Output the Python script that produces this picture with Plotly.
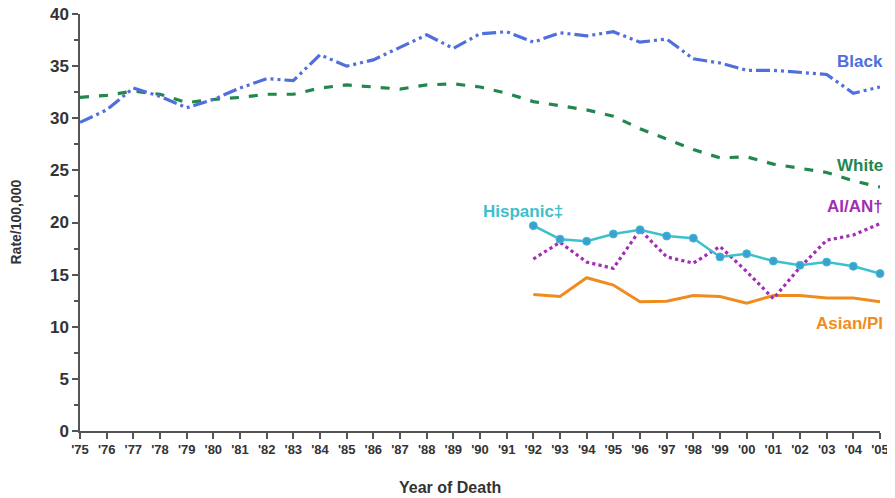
import plotly.graph_objects as go

years = list(range(1975, 2006))
tick_labels = ["'%02d" % (y % 100) for y in years]

black = [29.6, 30.8, 32.9, 32.1, 31.0, 31.8, 32.9, 33.8, 33.6, 36.1, 35.0, 35.6,
         36.8, 38.0, 36.7, 38.1, 38.3, 37.3, 38.2, 37.9, 38.3, 37.3, 37.6, 35.7,
         35.3, 34.6, 34.6, 34.4, 34.2, 32.4, 33.0]
white = [32.0, 32.2, 32.6, 32.3, 31.5, 31.8, 32.0, 32.3, 32.3, 32.9, 33.2, 33.0,
         32.8, 33.2, 33.3, 33.0, 32.4, 31.6, 31.2, 30.8, 30.2, 29.0, 28.0, 27.0,
         26.2, 26.3, 25.6, 25.2, 24.8, 24.0, 23.4]
years_late = list(range(1992, 2006))
hispanic = [19.7, 18.4, 18.2, 18.9, 19.3, 18.7, 18.5, 16.7, 17.0, 16.3, 15.9, 16.2, 15.8, 15.1]
aian = [16.5, 18.1, 16.2, 15.6, 19.3, 16.7, 16.1, 17.7, 15.3, 12.7, 15.7, 18.3, 18.8, 19.9]
asian = [13.1, 12.9, 14.7, 14.0, 12.4, 12.45, 13.0, 12.9, 12.25, 13.0, 13.0, 12.75, 12.75, 12.4]

c_black = "#4f6fdc"
c_white = "#22874f"
c_hisp = "#3cc0cc"
c_hisp_m = "#3f9fd4"
c_aian = "#a32db4"
c_asian = "#f08c1e"

fig = go.Figure()
fig.add_trace(go.Scatter(x=years, y=white, mode="lines", cliponaxis=False,
                         line=dict(color=c_white, width=3.2, dash="9px,10px")))
fig.add_trace(go.Scatter(x=years, y=black, mode="lines", cliponaxis=False,
                         line=dict(color=c_black, width=3.2, dash="14px,4px,3px,4px,3px,4px")))
fig.add_trace(go.Scatter(x=years_late, y=asian, mode="lines", cliponaxis=False,
                         line=dict(color=c_asian, width=3)))
fig.add_trace(go.Scatter(x=years_late, y=aian, mode="lines", cliponaxis=False,
                         line=dict(color=c_aian, width=3.2, dash="dot")))
fig.add_trace(go.Scatter(x=years_late, y=hispanic, mode="lines+markers", cliponaxis=False,
                         line=dict(color=c_hisp, width=2.5),
                         marker=dict(color=c_hisp_m, size=8, line=dict(color=c_hisp, width=1))))

fnt = "Liberation Sans, Arial, sans-serif"
labels = [
    ("Black", 2005, 35.4, c_black, "right"),
    ("White", 2005, 25.5, c_white, "right"),
    ("AI/AN†", 2005, 21.5, c_aian, "right"),
    ("Hispanic‡", 1991.6, 21.1, c_hisp, "center"),
    ("Asian/PI", 2005, 10.35, c_asian, "right"),
]
for txt, x, y, c, anc in labels:
    fig.add_annotation(x=x, y=y, text="<b>%s</b>" % txt, showarrow=False,
                       xanchor=anc, yanchor="middle", xshift=(5 if anc == "right" else 0),
                       font=dict(family=fnt, size=17, color=c))

# axis titles
fig.add_annotation(xref="paper", yref="paper", x=(450 - 80) / 800, y=-56 / 417,
                   text="<b>Year of Death</b>", showarrow=False, xanchor="center", yanchor="middle",
                   font=dict(family=fnt, size=16, color="#333333"))
fig.add_annotation(xref="paper", yref="paper", x=-65 / 800, y=0.5, textangle=-90,
                   text="<b>Rate/100,000</b>", showarrow=False, xanchor="center", yanchor="middle",
                   font=dict(family=fnt, size=14, color="#333333"))

fig.update_layout(
    width=887, height=490,
    margin=dict(l=72, r=15, t=6, b=67, autoexpand=False),
    paper_bgcolor="white", plot_bgcolor="white",
    showlegend=False,
    font=dict(family=fnt, color="#333333"),
)
fig.update_xaxes(
    range=[1975, 2005], tickmode="array", tickvals=years, ticktext=tick_labels,
    ticks="outside", ticklen=6, tickwidth=1.5, tickcolor="#555555", automargin=False,
    ticklabeloverflow="allow",
    showline=True, linecolor="#555555", linewidth=1.5, showgrid=False, zeroline=False,
    tickfont=dict(family=fnt, size=13, color="#333333", weight="bold"),
)
fig.update_yaxes(
    range=[0, 40], tickmode="linear", tick0=0, dtick=5, automargin=False,
    ticklabeloverflow="allow",
    ticks="outside", ticklen=6, tickwidth=1.5, tickcolor="#555555",
    minor=dict(ticks="outside", dtick=2.5, ticklen=4, tickcolor="#555555", tickwidth=1.5),
    showline=True, linecolor="#555555", linewidth=1.5, showgrid=False, zeroline=False,
    tickfont=dict(family=fnt, size=17, color="#333333", weight="bold"),
)

fig.write_html("out.html")
